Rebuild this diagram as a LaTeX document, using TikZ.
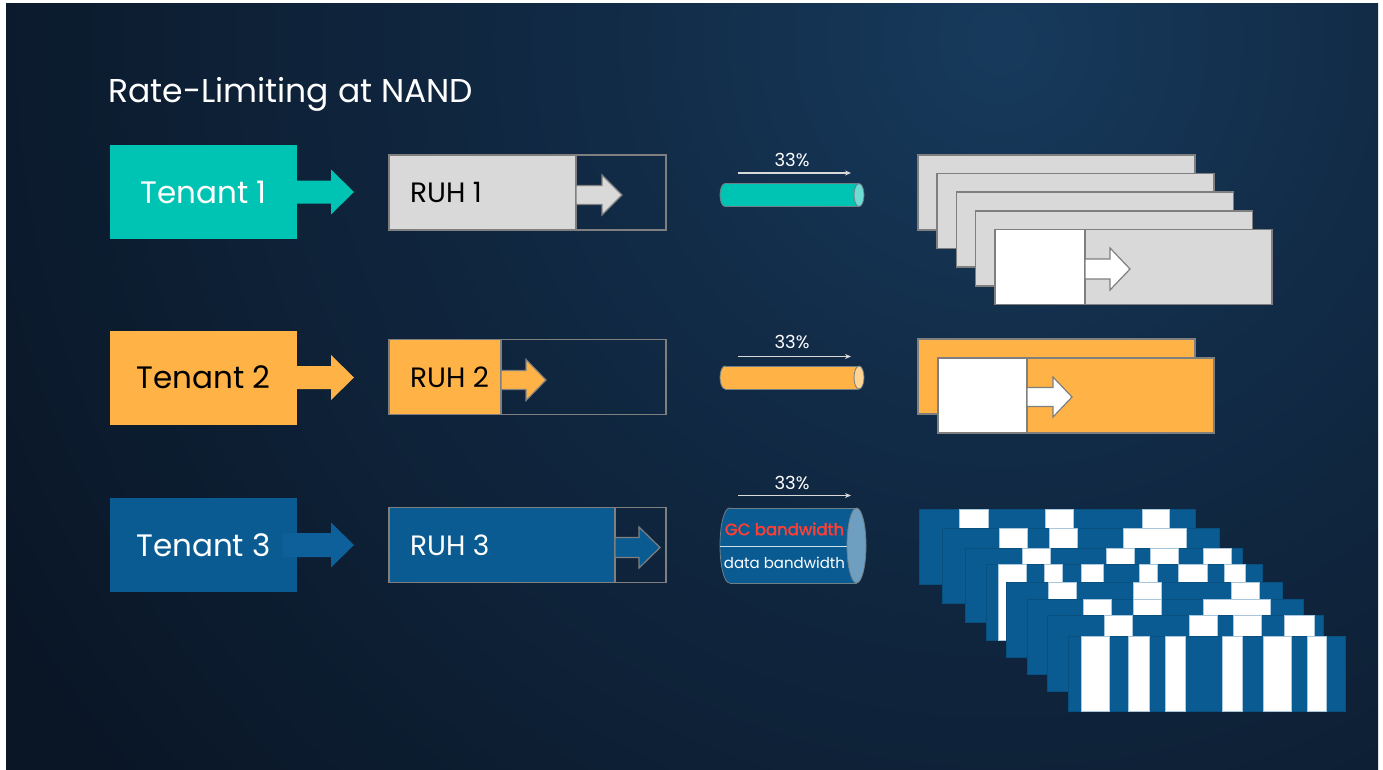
\documentclass[tikz,border=0pt]{standalone}
\usepackage{fontspec}
\setmainfont{Poppins}
\newfontfamily\gcfont[FakeBold=2]{Poppins}
\usetikzlibrary{arrows.meta}

\definecolor{bgdark}{HTML}{0A1626}
\definecolor{bgmid}{HTML}{112A45}
\definecolor{bgglow}{HTML}{173A5C}
\definecolor{tenteal}{HTML}{00C4B3}
\definecolor{tealcap}{HTML}{6FDCD3}
\definecolor{tenamber}{HTML}{FFB347}
\definecolor{ambercap}{HTML}{FFD392}
\definecolor{tenblue}{HTML}{0A5B92}
\definecolor{tenbluearrow}{HTML}{0D6099}
\definecolor{bluecap}{HTML}{6E9EC0}
\definecolor{ruhgray}{HTML}{D9D9D9}
\definecolor{edgegray}{HTML}{7F7F7F}
\definecolor{tubeedge}{HTML}{6F7F88}
\definecolor{gcred}{HTML}{FF3F33}
\definecolor{blueedge}{HTML}{08507F}
\definecolor{celledge}{HTML}{A8C6DC}

% soft glow for the backdrop; the path's box spans the inner 50bp
\pgfdeclareradialshading{backglow}{\pgfpoint{0bp}{0bp}}{%
  color(0bp)=(bgglow); color(9bp)=(bgmid); color(25bp)=(bgdark); color(50bp)=(bgdark)}

% block arrow: tail x, neck x, tip x, centre y, shaft half height, head half height
\newcommand\blockarrow[7][]{%
  \path[#1] (#2,#5-#6) -- (#3,#5-#6) -- (#3,#5-#7) -- (#4,#5)
    -- (#3,#5+#7) -- (#3,#5+#6) -- (#2,#5+#6) -- cycle;}

% lying tube: left x, right x, centre y, radius y, radius x, body colour, cap colour
\newcommand\tube[7]{%
  \filldraw[fill=#6, draw=tubeedge, line width=0.8pt] (#1+#5,#3) ellipse [x radius=#5pt, y radius=#4pt];
  \fill[#6] (#1+#5,#3-#4) rectangle (#2-#5,#3+#4);
  \draw[tubeedge, line width=0.8pt] (#1+#5,#3-#4) -- (#2-#5,#3-#4) (#1+#5,#3+#4) -- (#2-#5,#3+#4);
  \filldraw[fill=#7, draw=tubeedge, line width=0.8pt] (#2-#5,#3) ellipse [x radius=#5pt, y radius=#4pt];}

\begin{document}
\begin{tikzpicture}[x=1pt,y=-1pt,
  tenant/.style={minimum width=187pt, minimum height=94pt, inner sep=0pt,
    font=\fontsize{31}{36}\selectfont},
  ruhframe/.style={draw=edgegray, line width=1.5pt, minimum width=277pt,
    minimum height=75pt, inner sep=0pt},
  ruhlabel/.style={anchor=west, inner sep=0pt, font=\fontsize{28}{32}\selectfont},
  edgeline/.style={draw=edgegray, line width=1.5pt},
  block/.style={draw=edgegray, line width=1.5pt},
  pct/.style={text=white, font=\fontsize{18}{22}\selectfont, inner sep=0pt},
  rate/.style={draw=ruhgray, line width=1.3pt, -{Stealth[length=6pt,width=5pt]}},
  page/.style={fill=tenblue, draw=blueedge, line width=0.8pt},
  cell/.style={fill=white, draw=celledge, line width=0.8pt},
]
\useasboundingbox (0,0) rectangle (1383,769);
% white page margins on the left, top and right
\fill[white] (0,0) rectangle (1383,3) (0,0) rectangle (6,769) (1378,0) rectangle (1383,769);
\begin{scope}
  \clip (6,3) rectangle (1378,775);
  \fill[bgdark] (6,3) rectangle (1378,775);
  \shade[shading=backglow] (1000,40) circle [radius=1150pt];
\end{scope}

% title
\node[anchor=base west, text=white, inner sep=0pt,
  font=\fontsize{33}{40}\selectfont] (title) at (108,102) {Rate-Limiting at NAND};

% ---------------- tenant 1 ----------------
\node[tenant, fill=tenteal, text=white] (t1) at (203.5,192) {Tenant 1};
\blockarrow[fill=tenteal]{296}{331}{354}{192}{11.5}{22.5}

\fill[ruhgray] (389,155) rectangle (576,230);
\node[ruhframe] (r1) at (527.5,192.5) {};
\draw[edgeline] (576,155) -- (576,230);
\blockarrow[fill=ruhgray, draw=edgegray, line width=1.2pt]{576}{602}{622}{195}{9.5}{20}
\node[ruhlabel, text=black] (r1l) at (410,192.5) {RUH 1};

\coordinate (p1s) at (738,173);
\coordinate (p1e) at (851,173);
\draw[rate] (p1s) -- (p1e);
\node[pct] (p1) at (792,160) {33\%};
\tube{720}{864}{195}{11.5}{5}{tenteal}{tealcap}

\foreach \i in {0,...,4}
  \path[block, fill=ruhgray] (918+19.2*\i,155+18.6*\i) rectangle ++(277,75);
\path[block, fill=white] (994.8,229.4) rectangle (1085,304.4);
\blockarrow[fill=white, draw=edgegray, line width=1.2pt]{1085}{1110}{1130}{269}{10}{21}

% ---------------- tenant 2 ----------------
\node[tenant, fill=tenamber, text=black] (t2) at (203.5,377.5) {Tenant 2};
\blockarrow[fill=tenamber]{296}{331}{354}{377.5}{11.5}{22.5}

\fill[tenamber] (389,339.5) rectangle (501,414.5);
\node[ruhframe] (r2) at (527.5,377) {};
\draw[edgeline] (501,339.5) -- (501,414.5);
\blockarrow[fill=tenamber, draw=edgegray, line width=1.2pt]{501}{526}{546}{380}{9.5}{20.5}
\node[ruhlabel, text=black] (r2l) at (410,377) {RUH 2};

\coordinate (p2s) at (738,356.5);
\coordinate (p2e) at (851,356.5);
\draw[rate] (p2s) -- (p2e);
\node[pct] (p2) at (792,342) {33\%};
\tube{720}{864}{377.5}{11.5}{5}{tenamber}{ambercap}

\path[block, fill=tenamber] (918,339) rectangle (1195,414);
\path[block, fill=tenamber] (938,358) rectangle (1214,433);
\path[block, fill=white] (938,358) rectangle (1027,433);
\blockarrow[fill=white, draw=edgegray, line width=1.2pt]{1027}{1053}{1072}{397}{9.5}{20}

% ---------------- tenant 3 ----------------
\node[tenant, fill=tenblue, text=white] (t3) at (203.5,545) {Tenant 3};
\blockarrow[fill=tenbluearrow]{283}{331}{354}{545}{12}{22.5}

\fill[tenblue] (389,507.5) rectangle (615,582.5);
\node[ruhframe] (r3) at (527.5,545) {};
\draw[edgeline] (615,507.5) -- (615,582.5);
\blockarrow[fill=tenblue, draw=edgegray, line width=1.2pt]{615}{639}{660}{547.5}{10}{20.5}
\node[ruhlabel, text=white] (r3l) at (410,545) {RUH 3};

\coordinate (p3s) at (738,495.5);
\coordinate (p3e) at (851,495.5);
\draw[rate] (p3s) -- (p3e);
\node[pct] (p3) at (792,483) {33\%};
\tube{720}{866}{545.5}{37.5}{9.5}{tenblue}{bluecap}
\coordinate (mid1) at (720,546);
\coordinate (mid2) at (847,546);
\draw[white!80!tenblue, line width=1pt] (mid1) -- (mid2);
\node[text=gcred, inner sep=0pt, font=\gcfont\fontsize{16.5}{18}\selectfont] (gc) at (784.5,529) {GC bandwidth};
\node[text=white, inner sep=0pt, font=\fontsize{15}{18}\selectfont] (db) at (784.5,563) {data bandwidth};

% stacked pages with scattered valid blocks
\path[page] (919,509) rectangle (1195,584);
\path[cell] (959,509) rectangle (988,528) (1045,509) rectangle (1073,528) (1142,509) rectangle (1169,528);
\path[page] (942,528) rectangle (1219,603);
\path[cell] (999,528) rectangle (1027,548) (1049,528) rectangle (1077,548) (1123,528) rectangle (1186,548);
\path[page] (965,548) rectangle (1242,622);
\path[cell] (1022,548) rectangle (1050,564) (1106,548) rectangle (1134,564) (1150,548) rectangle (1178,564)
  (1203,548) rectangle (1231,564);
\path[page] (986,564) rectangle (1262,640);
\path[cell] (998,564) rectangle (1026,640) (1044,564) rectangle (1062,582) (1081,564) rectangle (1103,582)
  (1139,564) rectangle (1157,582) (1178,564) rectangle (1207,582) (1224,564) rectangle (1245,582);
\path[page] (1006,582) rectangle (1282,657);
\path[cell] (1048,582) rectangle (1076,599) (1133,582) rectangle (1161,599) (1231,582) rectangle (1259,599);
\path[page] (1027,599) rectangle (1303,674);
\path[cell] (1083,599) rectangle (1111,615) (1133,599) rectangle (1161,615) (1203,599) rectangle (1270,615);
\path[page] (1047,615) rectangle (1323,691);
\path[cell] (1104,615) rectangle (1132,636) (1189,615) rectangle (1217,636) (1233,615) rectangle (1261,636)
  (1284,615) rectangle (1314,636);
\path[page] (1068,636) rectangle (1345,711);
\path[cell] (1081,636) rectangle (1109,711) (1128,636) rectangle (1149,711) (1165,636) rectangle (1185,711)
  (1222,636) rectangle (1242,711) (1263,636) rectangle (1291,711) (1307,636) rectangle (1326,711);
\end{tikzpicture}
\end{document}
